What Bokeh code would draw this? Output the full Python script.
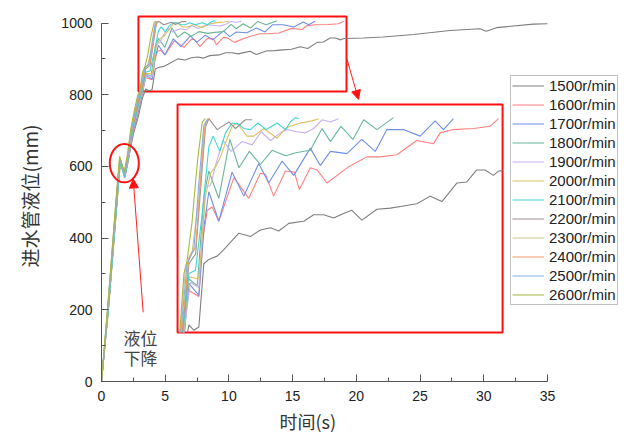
from bokeh.plotting import figure
from bokeh.models import (Range1d, SingleIntervalTicker, Legend, LegendItem,
                          Arrow, NormalHead, Title)
from bokeh.core.properties import value
from bokeh.embed import file_html
from bokeh.resources import INLINE

# ---------------- data (time s, level mm) ----------------
SPEEDS = ["1500r/min", "1600r/min", "1700r/min", "1800r/min", "1900r/min", "2000r/min",
          "2100r/min", "2200r/min", "2300r/min", "2400r/min", "2500r/min", "2600r/min"]

T_1500 = [0, 0.58, 1.3, 1.5, 1.85, 2.1, 2.5, 2.9, 3.2, 3.47, 3.72, 3.97, 4.22, 4.47, 4.89, 5.22,
          5.98, 6.56, 7.06, 7.57, 7.98, 8.49, 9.24, 9.74, 10.24, 10.74, 11.24, 11.66, 12.16, 12.92,
          13.59, 14.25, 14.92, 15.6, 16.18, 16.93, 17.43, 17.93, 18.35, 18.77, 19.02, 20.56, 22.1,
          24.5, 27.35, 29.7, 30.2, 31.0, 33.9, 35.0]
H_1500 = [0, 220, 535, 618, 575, 618, 690, 740, 790, 816, 811, 814, 872, 876, 879, 885,
          900, 897, 903, 905, 902, 909, 911, 917, 917, 914, 918, 921, 912, 922,
          923, 925, 927, 934, 929, 946, 947, 958, 958, 953, 957, 958, 961,
          968, 979, 984, 977, 987, 997, 998]

T_1600 = [0, 0.56, 1.26, 1.47, 1.83, 2.08, 2.45, 2.82, 3.1, 3.26, 3.42, 3.97, 4.19, 4.39, 4.64,
          4.97, 5.73, 6.48, 7.06, 7.31, 7.73, 8.32, 8.77, 9.02, 9.57, 9.91, 10.41, 11.5, 12.41,
          13.08, 13.92, 14.92, 15.76, 16.09, 16.76, 17.77, 18.6, 19.02]
H_1600 = [0, 205, 520, 610, 568, 612, 690, 740, 786, 812, 848, 842, 897, 921, 924,
          911, 951, 932, 955, 954, 934, 957, 956, 940, 960, 958, 946, 961, 970,
          970, 972, 985, 982, 992, 995, 996, 998, 1005]

T_1700 = [0, 0.55, 1.25, 1.46, 1.82, 2.07, 2.44, 2.8, 3.08, 3.25, 3.47, 3.97, 4.22, 4.47, 4.97,
          5.64, 6.23, 6.98, 7.48, 8.15, 8.74, 9.57, 10.07, 10.58, 11.41, 12.16, 12.83, 13.42,
          14.25, 15.09, 15.84, 16.26, 16.76]
H_1700 = [0, 208, 522, 612, 570, 614, 692, 742, 786, 810, 854, 843, 905, 938, 911,
          956, 934, 964, 946, 966, 953, 978, 962, 975, 973, 986, 975, 995,
          995, 989, 1003, 995, 1005]

T_1800 = [0, 0.55, 1.25, 1.46, 1.82, 2.07, 2.43, 2.78, 3.05, 3.22, 3.47, 3.89, 4.22, 4.47, 4.97,
          5.53, 5.98, 6.51, 7.06, 7.65, 8.32, 8.9, 9.57, 10.16, 10.58, 11.11, 11.71, 12.25,
          12.92, 13.75]
H_1800 = [0, 210, 525, 615, 572, 617, 694, 745, 788, 810, 858, 852, 933, 957, 932,
          986, 960, 975, 963, 976, 971, 974, 976, 996, 984, 998, 986, 1004,
          995, 1006]

T_1900 = [0, 0.55, 1.25, 1.46, 1.82, 2.07, 2.42, 2.78, 3.05, 3.22, 3.55, 3.97, 4.3, 4.56, 4.85,
          5.19, 5.59, 6.14, 6.65, 7.1, 7.57, 8.07, 8.4, 8.9, 9.32, 9.74, 10.16, 10.58, 10.99]
H_1900 = [0, 210, 525, 615, 572, 617, 695, 745, 788, 810, 855, 850, 942, 944, 965,
          985, 975, 984, 981, 993, 985, 992, 995, 993, 992, 996, 1004, 1002, 1005]

T_2000 = [0, 0.55, 1.25, 1.46, 1.82, 2.07, 2.42, 2.76, 3.02, 3.2, 3.47, 3.97, 4.3, 4.56, 4.85,
          5.06, 5.31, 5.64, 5.89, 6.39, 6.73, 7.23, 7.9, 8.32, 8.57, 9.07, 9.66, 9.99]
H_2000 = [0, 210, 525, 615, 572, 617, 696, 748, 790, 810, 860, 858, 934, 955, 962,
          970, 983, 998, 1001, 989, 989, 996, 987, 996, 998, 1001, 1003, 1005]

T_2100 = [0, 0.55, 1.25, 1.46, 1.82, 2.07, 2.42, 2.75, 3.0, 3.18, 3.47, 3.8, 4.14, 4.47, 4.69,
          5.02, 5.31, 5.64, 5.98, 6.23, 6.56, 6.93, 7.36, 7.9, 8.32, 8.57, 8.82, 8.99]
H_2100 = [0, 205, 520, 610, 570, 615, 695, 748, 788, 810, 863, 866, 918, 979, 989,
          975, 992, 1001, 1000, 996, 995, 1001, 995, 1001, 995, 1002, 1006, 1005]

T_2200 = [0, 0.52, 1.22, 1.44, 1.8, 2.05, 2.38, 2.7, 2.95, 3.15, 3.47, 3.81, 4.05, 4.3, 4.47,
          4.89, 5.48, 5.81, 6.31, 6.65]
H_2200 = [0, 215, 530, 623, 580, 624, 698, 750, 790, 812, 872, 881, 939, 997, 1005,
          995, 1002, 996, 1004, 1004]

T_2300 = [0, 0.5, 1.2, 1.43, 1.79, 2.03, 2.32, 2.62, 2.88, 3.05, 3.3, 3.64, 3.97, 4.22, 4.42]
H_2300 = [0, 215, 533, 625, 582, 626, 702, 757, 797, 812, 869, 884, 932, 995, 1005]

T_2400 = [0, 0.52, 1.22, 1.44, 1.8, 2.05, 2.37, 2.68, 2.92, 3.12, 3.47, 3.81, 4.05, 4.3, 4.47]
H_2400 = [0, 215, 530, 622, 578, 622, 698, 752, 792, 812, 878, 887, 946, 1001, 1005]

T_2500 = [0, 0.52, 1.22, 1.44, 1.8, 2.05, 2.35, 2.65, 2.9, 3.08, 3.38, 3.72, 3.97, 4.22, 4.42]
H_2500 = [0, 215, 530, 622, 578, 622, 700, 755, 795, 812, 872, 885, 946, 999, 1005]

T_2600 = [0, 0.5, 1.2, 1.42, 1.78, 2.02, 2.3, 2.6, 2.85, 3.02, 3.22, 3.38, 3.62, 3.89, 4.14, 4.3]
H_2600 = [0, 215, 535, 628, 585, 630, 705, 760, 800, 812, 863, 875, 909, 964, 1002, 1005]

X_TICK_STEP = 5
Y_TICK_STEP = 200

# ---------------- layout constants ----------------
X_END = 41.52          # frame right edge, in seconds
Y_END = 1034.9         # frame top edge, in mm
ZOOM = (2.9, 19.23, 809, 1018)          # zoomed region (x0, x1, y0, y1)
INSET = (5.97, 31.48, 136.7, 772.7)     # where the zoom is shown, in main coords

COLORS = ["#7f7f7f", "#ff8080", "#6f8fe8", "#6bb59a", "#c5b0f0", "#dcc062",
          "#3fd6d6", "#9c9090", "#c9c88a", "#f29a6a", "#85aee6", "#aab840"]

SERIES = [(T_1500, H_1500), (T_1600, H_1600), (T_1700, H_1700), (T_1800, H_1800),
          (T_1900, H_1900), (T_2000, H_2000), (T_2100, H_2100), (T_2200, H_2200),
          (T_2300, H_2300), (T_2400, H_2400), (T_2500, H_2500), (T_2600, H_2600)]

NUM_FONT = "Liberation Sans"
CJK_FONT = "Noto Sans CJK SC"

p = figure(width=640, height=438, output_backend="svg", toolbar_location=None,
           x_range=Range1d(0, X_END), y_range=Range1d(0, Y_END),
           min_border_left=101, min_border_right=10, min_border_top=10, min_border_bottom=57)
p.outline_line_color = None
p.xgrid.visible = False
p.ygrid.visible = False
p.background_fill_color = "white"

# inset ranges: map the zoom region onto the inset box
zx0, zx1, zy0, zy1 = ZOOM
ix0, ix1, iy0, iy1 = INSET
sx = (ix1 - ix0) / (zx1 - zx0)
sy = (iy1 - iy0) / (zy1 - zy0)
p.extra_x_ranges = {"ix": Range1d(zx0 + (0 - ix0) / sx, zx0 + (X_END - ix0) / sx)}
p.extra_y_ranges = {"iy": Range1d(zy0 + (0 - iy0) / sy, zy0 + (Y_END - iy0) / sy)}

# axes styling
for ax, step, bnd in ((p.xaxis[0], X_TICK_STEP, (0, 35)), (p.yaxis[0], Y_TICK_STEP, (0, 1000))):
    ax.ticker = SingleIntervalTicker(interval=step, num_minor_ticks=2)
    ax.bounds = bnd
    ax.axis_line_color = "#555555"
    ax.major_tick_line_color = "#555555"
    ax.minor_tick_line_color = "#555555"
    ax.major_tick_in = 7
    ax.major_tick_out = 0
    ax.minor_tick_in = 4
    ax.minor_tick_out = 0
    ax.major_label_text_font = NUM_FONT
    ax.major_label_text_font_size = "14px"
    ax.major_label_text_color = "#222222"

p.yaxis[0].axis_label = "进水管液位(mm)"
p.yaxis[0].axis_label_text_font = CJK_FONT
p.yaxis[0].axis_label_text_font_style = "normal"
p.yaxis[0].axis_label_text_font_size = "19px"
p.yaxis[0].axis_label_text_color = "#333333"
p.xaxis[0].major_label_standoff = 9
p.yaxis[0].major_label_standoff = 9
p.yaxis[0].axis_label_standoff = 15

# x-axis title (placed under the left part of the axis, as in the original)
p.add_layout(Title(text="时间(s)", align="left", offset=178, standoff=4,
                   text_font=CJK_FONT, text_font_style="normal", text_font_size="18px",
                   text_color="#333333"), "below")


def clip_polyline(xs, ys, x0, x1, y0, y1):
    segs = []
    cx, cy = [], []
    for i in range(len(xs) - 1):
        xa, ya, xb, yb = xs[i], ys[i], xs[i + 1], ys[i + 1]
        dx, dy = xb - xa, yb - ya
        t0, t1 = 0.0, 1.0
        ok = True
        for pp, qq in ((-dx, xa - x0), (dx, x1 - xa), (-dy, ya - y0), (dy, y1 - ya)):
            if pp == 0:
                if qq < 0:
                    ok = False
                    break
            else:
                r = qq / pp
                if pp < 0:
                    t0 = max(t0, r)
                else:
                    t1 = min(t1, r)
        if not ok or t0 > t1:
            if cx:
                segs.append((cx, cy))
                cx, cy = [], []
            continue
        ax_, ay_ = xa + t0 * dx, ya + t0 * dy
        bx_, by_ = xa + t1 * dx, ya + t1 * dy
        if not cx or t0 > 0:
            if cx:
                segs.append((cx, cy))
            cx, cy = [ax_], [ay_]
        cx.append(bx_)
        cy.append(by_)
        if t1 < 1:
            segs.append((cx, cy))
            cx, cy = [], []
    if cx:
        segs.append((cx, cy))
    return segs


# inset box (white background + red frame), and the zoom marker box
p.quad(left=[zx0], right=[zx1], bottom=[zy0], top=[zy1], fill_color="white",
       line_color="#ff1010", line_width=2, x_range_name="ix", y_range_name="iy")
p.quad(left=[zx0], right=[zx1], bottom=[zy0], top=[zy1], fill_color=None,
       line_color="#ff1010", line_width=2)

items = []
for (t, h), c, lab in zip(SERIES, COLORS, SPEEDS):
    r = p.line(t, h, line_color=c, line_width=1.1)
    items.append(LegendItem(label=lab, renderers=[r]))
    segs = clip_polyline(t, h, zx0, zx1, zy0, zy1)
    if segs:
        p.multi_line(xs=[s[0] for s in segs], ys=[s[1] for s in segs], line_color=c,
                     line_width=1.1, x_range_name="ix", y_range_name="iy")

# annotation: level drop
p.ellipse(x=[1.79], y=[609], width=2.28, height=107, fill_color=None,
          line_color="#ff1010", line_width=2)
p.add_layout(Arrow(end=NormalHead(size=9, fill_color="#ff1010", line_color="#ff1010"),
                   x_start=3.27, y_start=193, x_end=2.49, y_end=565,
                   line_color="#ff2020", line_width=1))
p.add_layout(Arrow(end=NormalHead(size=9, fill_color="#ff1010", line_color="#ff1010"),
                   x_start=19.23, y_start=904, x_end=20.17, y_end=787,
                   line_color="#ff2020", line_width=1))
p.text(x=[1.73, 1.73], y=[123, 67], text=["液位", "下降"], text_font=value(CJK_FONT),
       text_font_size="17px", text_color="#444444", text_align="left",
       text_baseline="middle")

legend = Legend(items=items, location=(409, 76), margin=0, padding=1, spacing=2,
                glyph_width=32, glyph_height=17, label_height=17, label_standoff=5,
                label_text_font=NUM_FONT, label_text_font_size="15px",
                label_text_color="#222222", border_line_color="#888888",
                border_line_width=1, background_fill_color="white",
                background_fill_alpha=1.0)
p.add_layout(legend)

open("out.html", "w").write(file_html(p, INLINE))
